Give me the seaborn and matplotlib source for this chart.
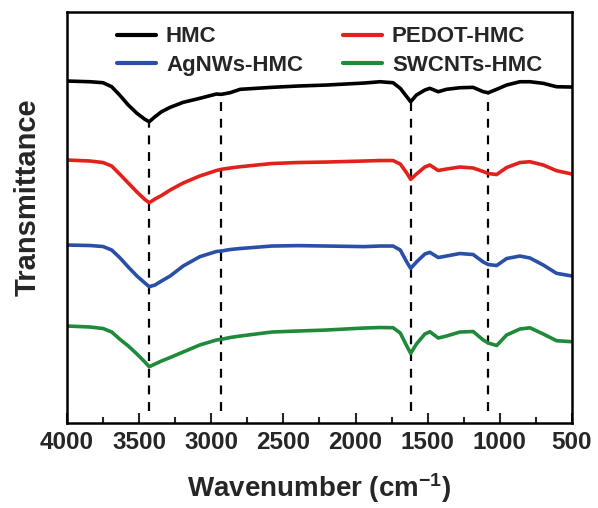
import matplotlib
matplotlib.use("Agg")
import matplotlib.pyplot as plt
import seaborn as sns
import numpy as np
import pandas as pd
from matplotlib.ticker import MultipleLocator

# ---- data ----
wavenumber = [4000, 3840, 3750, 3690, 3635, 3575, 3515, 3460, 3430, 3390,
              3345, 3285, 3195, 3080, 2965, 2930, 2870, 2800, 2580, 2400,
              2200, 1940, 1830, 1740, 1690, 1645, 1618, 1578, 1520, 1485,
              1427, 1370, 1277, 1185, 1115, 1080, 1022, 953, 861, 791,
              699, 607, 500]

hmc = [34.20, 34.13, 34.03, 33.63, 32.80, 31.80, 30.97, 30.37, 30.13, 30.63,
       31.13, 31.57, 32.07, 32.47, 32.90, 32.87, 33.03, 33.37, 33.57, 33.70,
       33.80, 34.00, 34.13, 34.03, 33.47, 32.63, 32.13, 32.80, 33.30, 33.47,
       33.13, 33.37, 33.53, 33.57, 33.13, 33.03, 33.37, 33.80, 34.13, 34.13,
       33.97, 33.63, 33.60]

pedot_hmc = [26.30, 26.20, 26.05, 25.70, 24.90, 24.00, 23.10, 22.35, 22.03, 22.40,
             22.75, 23.30, 24.00, 24.70, 25.25, 25.37, 25.50, 25.63, 25.95, 26.05,
             26.10, 26.20, 26.25, 26.25, 25.90, 25.00, 24.37, 24.90, 25.60, 25.80,
             25.25, 25.40, 25.60, 25.50, 25.15, 24.95, 24.85, 25.55, 26.05, 26.13,
             25.80, 25.23, 24.90]

agnws_hmc = [17.80, 17.75, 17.65, 17.30, 16.55, 15.60, 14.70, 14.00, 13.63, 13.80,
             14.20, 14.70, 15.70, 16.63, 17.15, 17.20, 17.35, 17.45, 17.70, 17.74,
             17.70, 17.64, 17.70, 17.70, 17.30, 16.10, 15.47, 16.10, 16.90, 17.07,
             16.55, 16.70, 16.95, 16.85, 16.10, 15.85, 15.75, 16.45, 16.70, 16.50,
             15.80, 14.97, 14.70]

swcnts_hmc = [9.70, 9.60, 9.45, 9.10, 8.40, 7.70, 6.90, 6.10, 5.63, 5.90,
              6.20, 6.55, 7.10, 7.80, 8.30, 8.37, 8.55, 8.70, 9.10, 9.20,
              9.30, 9.50, 9.55, 9.53, 9.00, 7.70, 6.97, 7.90, 8.90, 9.13,
              8.50, 8.70, 9.10, 9.15, 8.30, 8.00, 7.75, 8.80, 9.40, 9.52,
              8.90, 8.23, 8.13]

series_names = ["HMC", "PEDOT-HMC", "AgNWs-HMC", "SWCNTs-HMC"]
series_colors = ["#000000", "#e3211c", "#2a4fa8", "#1e8a3a"]
legend_order = ["HMC", "AgNWs-HMC", "PEDOT-HMC", "SWCNTs-HMC"]
peak_positions = [3430, 2930, 1618, 1080]

# ---- figure ----
sns.set_theme(style="white")
plt.rcParams['font.family'] = ['Liberation Sans', 'DejaVu Sans']
plt.rcParams['mathtext.fontset'] = 'custom'
plt.rcParams['mathtext.rm'] = 'Liberation Sans'
plt.rcParams['mathtext.bf'] = 'Liberation Sans:bold'

fig = plt.figure(figsize=(5.98, 5.08), dpi=100)
ax = fig.add_axes([0.1120, 0.1673, 0.8445, 0.8090])

frames = []
for name, vals in zip(series_names, [hmc, pedot_hmc, agnws_hmc, swcnts_hmc]):
    frames.append(pd.DataFrame({"wn": wavenumber, "T": vals, "sample": name}))
df = pd.concat(frames, ignore_index=True)

sns.lineplot(data=df, x="wn", y="T", hue="sample", hue_order=series_names,
             palette=series_colors, linewidth=2.6, ax=ax, sort=False,
             estimator=None)
for ln in ax.get_lines():
    ln.set_solid_joinstyle("round")
    ln.set_solid_capstyle("round")

# dashed guide lines from the HMC curve down to the bottom
wn_arr = np.array(wavenumber)[::-1]
hmc_arr = np.array(hmc)[::-1]
for p in peak_positions:
    top = np.interp(p, wn_arr, hmc_arr)
    ax.vlines(p, 1.2, top, colors="black", linestyles=(0, (4, 3.5)), linewidth=1.6,
              zorder=1)

ax.set_xlim(4000, 500)
ax.set_ylim(0, 41.1)
ax.xaxis.set_major_locator(MultipleLocator(500))
ax.xaxis.set_minor_locator(MultipleLocator(250))
ax.set_yticks([])
ax.tick_params(axis="x", which="major", direction="in", length=7, width=1.5,
               bottom=True, top=False, labelsize=17.5, pad=6)
ax.tick_params(axis="x", which="minor", direction="in", length=4, width=1.5,
               bottom=True, top=False)
for lab in ax.get_xticklabels():
    lab.set_fontweight("bold")
for s in ax.spines.values():
    s.set_linewidth(1.8)
    s.set_color("black")

ax.set_xlabel(r"Wavenumber $\mathbf{(cm^{-1})}$", fontsize=20, fontweight="bold",
              labelpad=12)
ax.set_ylabel("Transmittance", fontsize=21, fontweight="bold")
ax.yaxis.set_label_coords(-0.05, 0.55)

handles, labels = ax.get_legend_handles_labels()
hmap = dict(zip(labels, handles))
leg = ax.legend([hmap[k] for k in legend_order], legend_order, ncol=2,
                loc="upper center", bbox_to_anchor=(0.52, 1.0),
                frameon=False, fontsize=16, handlelength=1.75, handletextpad=0.45,
                columnspacing=1.8, labelspacing=0.35, borderaxespad=0.25)
for t in leg.get_texts():
    t.set_fontweight("bold")
for h in leg.get_lines():
    h.set_linewidth(3)

fig.savefig("out.png", dpi=100)
